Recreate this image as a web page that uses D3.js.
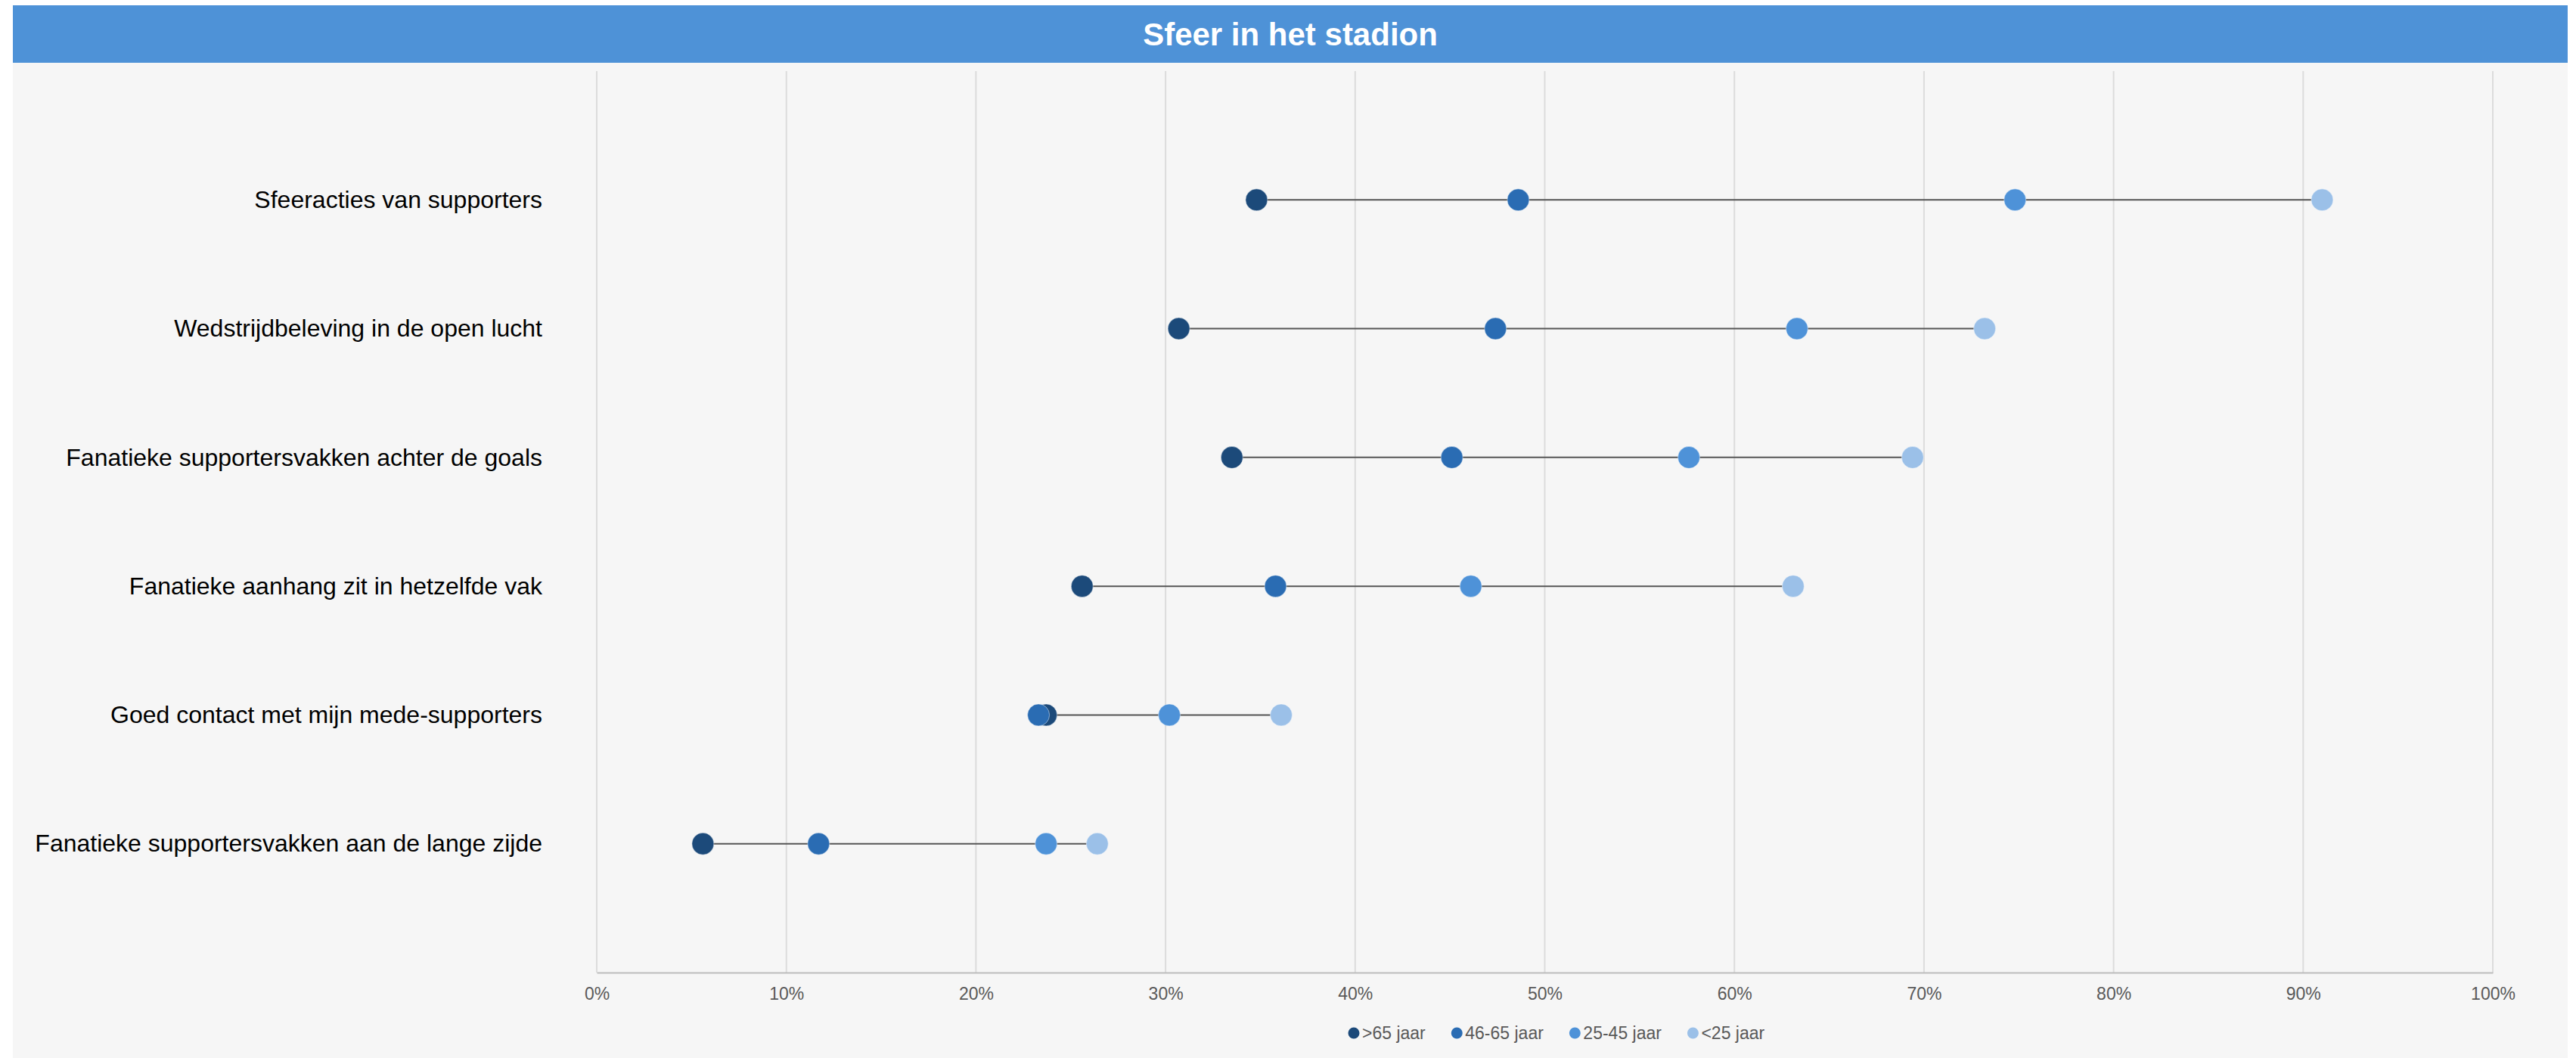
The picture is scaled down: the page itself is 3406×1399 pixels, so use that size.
<!DOCTYPE html>
<html>
<head>
<meta charset="utf-8">
<script src="https://cdn.jsdelivr.net/npm/d3@7"></script>
<style>
  html, body { margin: 0; padding: 0; background: #ffffff; }
  svg { display: block; font-family: "Liberation Sans", Arial, sans-serif; }
</style>
</head>
<body>
<svg id="chart" width="3406" height="1399"></svg>
<script>
// ---- data ----
const title = "Sfeer in het stadion";
const categories = [
  "Sfeeracties van supporters",
  "Wedstrijdbeleving in de open lucht",
  "Fanatieke supportersvakken achter de goals",
  "Fanatieke aanhang zit in hetzelfde vak",
  "Goed contact met mijn mede-supporters",
  "Fanatieke supportersvakken aan de lange zijde"
];
const seriesNames = [">65 jaar", "46-65 jaar", "25-45 jaar", "<25 jaar"];
const over65   = [34.8, 30.7, 33.5, 25.6, 23.7, 5.6];
const age46_65 = [48.6, 47.4, 45.1, 35.8, 23.3, 11.7];
const age25_45 = [74.8, 63.3, 57.6, 46.1, 30.2, 23.7];
const under25  = [91.0, 73.2, 69.4, 63.1, 36.1, 26.4];
const xTicks = [0, 10, 20, 30, 40, 50, 60, 70, 80, 90, 100];

const seriesValues = [over65, age46_65, age25_45, under25];
const colors = ["#1c4a7a", "#2a6cb3", "#4e92d8", "#9bc0e8"];

// ---- layout ----
const W = 3406, H = 1399;
const frame = { x: 17, y: 7, w: 3378 };
const titleH = 76;
const plot = { left: 789, right: 3296, top: 94, bottom: 1286 };

const svg = d3.select("#chart");

// backgrounds
svg.append("rect").attr("x", frame.x).attr("y", frame.y + titleH)
  .attr("width", frame.w).attr("height", H - frame.y - titleH).attr("fill", "#f6f6f6");
svg.append("rect").attr("x", frame.x).attr("y", frame.y)
  .attr("width", frame.w).attr("height", titleH).attr("fill", "#4e92d7");
svg.append("text").attr("x", frame.x + frame.w / 2).attr("y", frame.y + titleH / 2)
  .attr("text-anchor", "middle").attr("dominant-baseline", "central")
  .attr("fill", "#ffffff").attr("font-weight", "bold").attr("font-size", 42)
  .text(title);

// scales
const x = d3.scaleLinear().domain([0, 100]).range([plot.left, plot.right]);
const y = d3.scalePoint().domain(categories).range([plot.top, plot.bottom]).padding(1);

// grid
svg.append("g").selectAll("line").data(xTicks).join("line")
  .attr("x1", d => x(d)).attr("x2", d => x(d))
  .attr("y1", plot.top).attr("y2", plot.bottom)
  .attr("stroke", "#dcdcdc").attr("stroke-width", 2);

// x axis
const xAxis = d3.axisBottom(x).tickValues(xTicks).tickFormat(d => d + "%").tickSize(0).tickPadding(20);
const gx = svg.append("g").attr("transform", `translate(0,${plot.bottom})`).call(xAxis);
gx.select(".domain").attr("stroke", "#bcbcbc").attr("stroke-width", 2);
gx.selectAll("text").attr("font-size", 23).attr("fill", "#595959")
  .attr("font-family", "Liberation Sans, Arial, sans-serif");

// y labels
const yAxis = d3.axisLeft(y).tickSize(0).tickPadding(72);
const gy = svg.append("g").attr("transform", `translate(${plot.left},0)`).call(yAxis);
gy.select(".domain").remove();
gy.selectAll("text").attr("font-size", 32).attr("fill", "#000000")
  .attr("font-family", "Liberation Sans, Arial, sans-serif");

// rows
const rows = categories.map((c, i) => ({
  cat: c,
  vals: seriesValues.map(s => s[i])
}));

// connecting lines
svg.append("g").selectAll("line").data(rows).join("line")
  .attr("x1", d => x(d3.min(d.vals))).attr("x2", d => x(d3.max(d.vals)))
  .attr("y1", d => y(d.cat)).attr("y2", d => y(d.cat))
  .attr("stroke", "#555555").attr("stroke-width", 2);

// dots (series order so later series draw on top)
seriesValues.forEach((s, si) => {
  svg.append("g").selectAll("circle").data(categories).join("circle")
    .attr("cx", (d, i) => x(s[i])).attr("cy", d => y(d))
    .attr("r", 14.5)
    .attr("fill", colors[si])
    .attr("stroke", "rgba(255,255,255,0.45)").attr("stroke-width", 1);
});

// legend
const legend = svg.append("g").attr("transform", "translate(0,1366)");
let lx = 1790;
seriesNames.forEach((name, i) => {
  legend.append("circle").attr("cx", lx).attr("cy", 0).attr("r", 7.5).attr("fill", colors[i]);
  const t = legend.append("text").attr("x", lx + 11).attr("y", 0)
    .attr("dominant-baseline", "central").attr("font-size", 23).attr("fill", "#595959")
    .text(name);
  const w = t.node().getComputedTextLength();
  lx = lx + 11 + w + 34 + 7.5;
});
</script>
</body>
</html>
